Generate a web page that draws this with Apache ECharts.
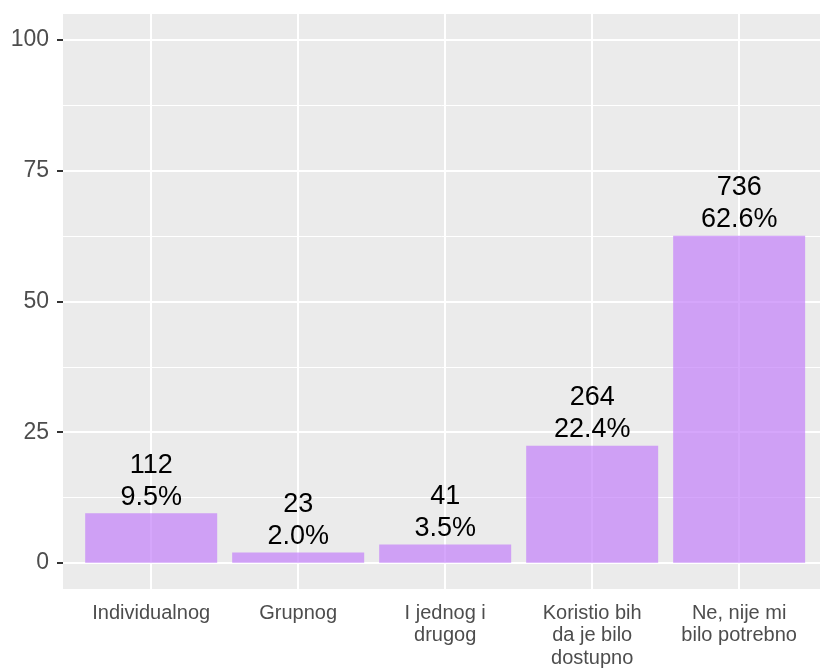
<!DOCTYPE html>
<html>
<head>
<meta charset="utf-8">
<script src="https://cdn.jsdelivr.net/npm/echarts@6/dist/echarts.min.js"></script>
<style>
  html, body { margin: 0; padding: 0; background: #fff; }
  #chart { width: 820px; height: 668px; }
</style>
</head>
<body>
<div id="chart"></div>
<script>
// categories on the x axis
const categories = [
  "Individualnog",
  "Grupnog",
  "I jednog i\ndrugog",
  "Koristio bih\nda je bilo\ndostupno",
  "Ne, nije mi\nbilo potrebno"
];
const counts = [112, 23, 41, 264, 736];
const percents = [9.5, 2.0, 3.5, 22.4, 62.6];
const yTicks = [0, 25, 50, 75, 100];
const yMinor = [12.5, 37.5, 62.5, 87.5];

const font = "Liberation Sans, Arial, sans-serif";
const positions = categories.map((c, i) => i + 1);

const chart = echarts.init(document.getElementById("chart"));

// gridlines as marklines, under the bars
const gridLines = [];
yTicks.forEach((v) => gridLines.push({ yAxis: v, lineStyle: { width: 2 } }));
yMinor.forEach((v) => gridLines.push({ yAxis: v, lineStyle: { width: 1 } }));
positions.forEach((v) => gridLines.push({ xAxis: v, lineStyle: { width: 2 } }));

chart.setOption({
  animation: false,
  grid: {
    left: 63,
    top: 14,
    width: 757,
    height: 575,
    outerBoundsMode: "none",
    show: true,
    backgroundColor: "#EBEBEB",
    borderWidth: 0,
  },
  xAxis: {
    type: "value",
    min: 0.4,
    max: 5.55,
    splitLine: { show: false },
    axisLine: { show: false },
    axisTick: {
      show: true,
      customValues: positions,
      length: 6,
      lineStyle: { color: "#333333", width: 2 },
    },
    axisLabel: {
      customValues: positions,
      formatter: (v) => categories[Math.round(v) - 1] || "",
      color: "#4D4D4D",
      fontFamily: font,
      fontSize: 20,
      lineHeight: 22.5,
      margin: 13,
    },
  },
  yAxis: {
    type: "value",
    min: -5,
    max: 105,
    splitLine: { show: false },
    axisLine: { show: false },
    axisTick: {
      show: true,
      customValues: yTicks,
      length: 6,
      lineStyle: { color: "#333333", width: 2 },
    },
    axisLabel: {
      customValues: yTicks,
      color: "#4D4D4D",
      fontFamily: font,
      fontSize: 23,
      margin: 14,
    },
  },
  series: [
    {
      type: "line",
      data: [],
      z: 1,
      markLine: {
        silent: true,
        z: 1,
        symbol: "none",
        label: { show: false },
        lineStyle: { color: "#FFFFFF", type: "solid" },
        data: gridLines,
      },
    },
    {
      type: "bar",
      z: 2,
      barWidth: 132,
      data: positions.map((x, i) => [x, percents[i]]),
      itemStyle: { color: "rgba(195,128,250,0.7)" },
      label: {
        show: true,
        position: "top",
        distance: 0,
        color: "#000000",
        fontFamily: font,
        fontSize: 27,
        lineHeight: 32,
        formatter: (p) => counts[p.dataIndex] + "\n" + percents[p.dataIndex].toFixed(1) + "%",
      },
    },
  ],
});
</script>
</body>
</html>
